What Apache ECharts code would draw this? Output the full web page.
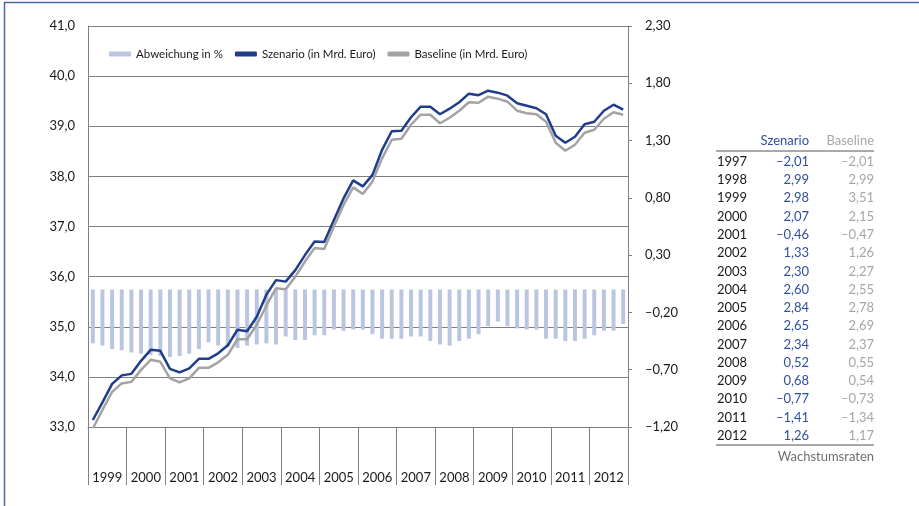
<!DOCTYPE html>
<html>
<head>
<meta charset="utf-8">
<script src="https://cdn.jsdelivr.net/npm/echarts@6/dist/echarts.min.js"></script>
<style>
  html, body { margin: 0; padding: 0; background: #fff; }
  #main { width: 919px; height: 506px; }
</style>
</head>
<body>
<div id="main"></div>
<script>
// Quartale 1999 Q1 .. 2012 Q4
const years = ['1999', '2000', '2001', '2002', '2003', '2004', '2005', '2006', '2007', '2008', '2009', '2010', '2011', '2012'];
const quarters = [];
years.forEach(y => { for (let q = 1; q <= 4; q++) quarters.push(y + ' Q' + q); });

// Abweichung in % (rechte Achse)
const abweichung = [
  -0.47, -0.49, -0.52, -0.53, -0.55, -0.56, -0.57, -0.58,
  -0.59, -0.58, -0.56, -0.52, -0.46, -0.49, -0.50, -0.51,
  -0.49, -0.48, -0.47, -0.48, -0.41, -0.44, -0.44, -0.40,
  -0.40, -0.35, -0.36, -0.35, -0.35, -0.39, -0.43, -0.43,
  -0.43, -0.41, -0.41, -0.45, -0.48, -0.49, -0.45, -0.43,
  -0.39, -0.32, -0.28, -0.32, -0.34, -0.35, -0.35, -0.43,
  -0.43, -0.45, -0.45, -0.43, -0.40, -0.36, -0.36, -0.30
];

// Szenario (in Mrd. Euro), linke Achse
const szenario = [
  33.14, 33.49, 33.86, 34.03, 34.06, 34.32, 34.54, 34.52,
  34.16, 34.09, 34.17, 34.36, 34.36, 34.47, 34.63, 34.94,
  34.91, 35.20, 35.64, 35.93, 35.90, 36.13, 36.43, 36.70,
  36.69, 37.13, 37.56, 37.92, 37.80, 38.03, 38.53, 38.90,
  38.91, 39.18, 39.39, 39.39, 39.24, 39.35, 39.48, 39.65,
  39.62, 39.71, 39.67, 39.61, 39.46, 39.41, 39.36, 39.24,
  38.81, 38.67, 38.79, 39.04, 39.09, 39.31, 39.43, 39.33
];

// Baseline (in Mrd. Euro), linke Achse
const baseline = [
  32.97, 33.34, 33.70, 33.87, 33.90, 34.14, 34.34, 34.30,
  33.97, 33.89, 33.97, 34.18, 34.18, 34.29, 34.44, 34.75,
  34.75, 35.04, 35.42, 35.77, 35.75, 36.00, 36.30, 36.57,
  36.55, 37.00, 37.43, 37.78, 37.65, 37.90, 38.36, 38.73,
  38.75, 39.03, 39.23, 39.23, 39.06, 39.17, 39.31, 39.48,
  39.47, 39.59, 39.55, 39.49, 39.31, 39.26, 39.24, 39.09,
  38.67, 38.51, 38.63, 38.87, 38.93, 39.15, 39.28, 39.23
];

// Tabelle: Wachstumsraten
const tableYears = ['1997', '1998', '1999', '2000', '2001', '2002', '2003', '2004',
  '2005', '2006', '2007', '2008', '2009', '2010', '2011', '2012'];
const growthSzenario = [-2.01, 2.99, 2.98, 2.07, -0.46, 1.33, 2.30, 2.60,
  2.84, 2.65, 2.34, 0.52, 0.68, -0.77, -1.41, 1.26];
const growthBaseline = [-2.01, 2.99, 3.51, 2.15, -0.47, 1.26, 2.27, 2.55,
  2.78, 2.69, 2.37, 0.55, 0.54, -0.73, -1.34, 1.17];

const FONT = 'Lato';
const BLUE = '#1f3d8a';
const GREY = '#a3a3a3';
const AXIS = '#7f7f7f';

// deutsche Zahlen: Komma, Halbgeviertstrich als Minus
function fmt(v, d) {
  const s = Math.abs(v).toFixed(d).replace('.', ',');
  return v < 0 ? '\u2013' + s : s;
}

const chart = echarts.init(document.getElementById('main'));

// Tabelle als graphic-Elemente
const tableGraphics = [];
const rowTop = 161.7, rowStep = 18.27;
tableGraphics.push(
  { type: 'text', style: { x: 809, y: 141, text: 'Szenario', fill: '#2f4f9e', font: '13px ' + FONT, align: 'right', verticalAlign: 'middle' } },
  { type: 'text', style: { x: 874, y: 141, text: 'Baseline', fill: '#a6a6a6', font: '13px ' + FONT, align: 'right', verticalAlign: 'middle' } },
  { type: 'line', shape: { x1: 716, y1: 151, x2: 874, y2: 151 }, style: { stroke: '#8c8c8c', lineWidth: 1.5 } },
  { type: 'line', shape: { x1: 716, y1: 445, x2: 874, y2: 445 }, style: { stroke: '#8c8c8c', lineWidth: 1.5 } },
  { type: 'text', style: { x: 874, y: 457, text: 'Wachstumsraten', fill: '#6f6f6f', font: '13px ' + FONT, align: 'right', verticalAlign: 'middle' } }
);
tableYears.forEach((y, i) => {
  const yy = rowTop + i * rowStep;
  tableGraphics.push(
    { type: 'text', style: { x: 717, y: yy, text: y, fill: '#1a1a1a', font: '13px ' + FONT, align: 'left', verticalAlign: 'middle' } },
    { type: 'text', style: { x: 809, y: yy, text: fmt(growthSzenario[i], 2), fill: '#2f4f9e', font: '13px ' + FONT, align: 'right', verticalAlign: 'middle' } },
    { type: 'text', style: { x: 874, y: yy, text: fmt(growthBaseline[i], 2), fill: '#a6a6a6', font: '13px ' + FONT, align: 'right', verticalAlign: 'middle' } }
  );
});
// Rahmen oben und links
tableGraphics.push({
  type: 'polyline',
  shape: { points: [[4.5, 506], [4.5, 2.5], [919, 2.5]] },
  style: { stroke: '#4a66a6', lineWidth: 1.5, fill: null }
});

const option = {
  animation: false,
  backgroundColor: '#fff',
  textStyle: { fontFamily: FONT },
  grid: { left: 88, right: 291, top: 26, bottom: 79, containLabel: false },
  legend: {
    left: 104,
    top: 43,
    itemWidth: 22,
    itemHeight: 5,
    itemGap: 12,
    textStyle: { fontFamily: FONT, fontSize: 11.5, color: '#1a1a1a' },
    data: [
      { name: 'Abweichung in %', icon: 'rect' },
      { name: 'Szenario (in Mrd. Euro)', icon: 'roundRect' },
      { name: 'Baseline (in Mrd. Euro)', icon: 'roundRect' }
    ]
  },
  xAxis: [
    {
      type: 'category',
      data: quarters,
      show: false,
      boundaryGap: true
    },
    {
      type: 'category',
      data: years,
      position: 'bottom',
      boundaryGap: true,
      axisLine: { show: true, lineStyle: { color: AXIS, width: 1 } },
      axisTick: { show: true, length: 58, interval: 0, lineStyle: { color: AXIS } },
      axisLabel: { margin: 44, fontSize: 13, color: '#1a1a1a', fontFamily: FONT, interval: 0 },
      splitLine: { show: false }
    }
  ],
  yAxis: [
    {
      type: 'value',
      min: 33,
      max: 41,
      interval: 1,
      position: 'left',
      axisLine: { show: true, lineStyle: { color: AXIS } },
      axisTick: { show: false },
      axisLabel: { margin: 13, fontSize: 13, color: '#1a1a1a', fontFamily: FONT, formatter: v => fmt(v, 1) },
      splitLine: { show: true, lineStyle: { color: AXIS, width: 1 } }
    },
    {
      type: 'value',
      min: -1.2,
      max: 2.3,
      interval: 0.5,
      position: 'right',
      axisLine: { show: true, lineStyle: { color: AXIS } },
      axisTick: { show: true, length: 4, lineStyle: { color: AXIS } },
      axisLabel: { margin: 17, fontSize: 13, color: '#1a1a1a', fontFamily: FONT, formatter: v => fmt(v, 2) },
      splitLine: { show: false }
    }
  ],
  series: [
    {
      name: 'Abweichung in %',
      type: 'bar',
      xAxisIndex: 0,
      yAxisIndex: 1,
      data: abweichung,
      barWidth: 4,
      itemStyle: { color: '#bac6e0' },
      z: 1
    },
    {
      name: 'Baseline (in Mrd. Euro)',
      type: 'line',
      xAxisIndex: 0,
      yAxisIndex: 0,
      data: baseline,
      showSymbol: false,
      lineStyle: { color: GREY, width: 2.5 },
      itemStyle: { color: GREY },
      z: 3
    },
    {
      name: 'Szenario (in Mrd. Euro)',
      type: 'line',
      xAxisIndex: 0,
      yAxisIndex: 0,
      data: szenario,
      showSymbol: false,
      lineStyle: { color: BLUE, width: 2.5 },
      itemStyle: { color: BLUE },
      z: 4
    }
  ],
  graphic: tableGraphics
};

chart.setOption(option);
</script>
</body>
</html>
